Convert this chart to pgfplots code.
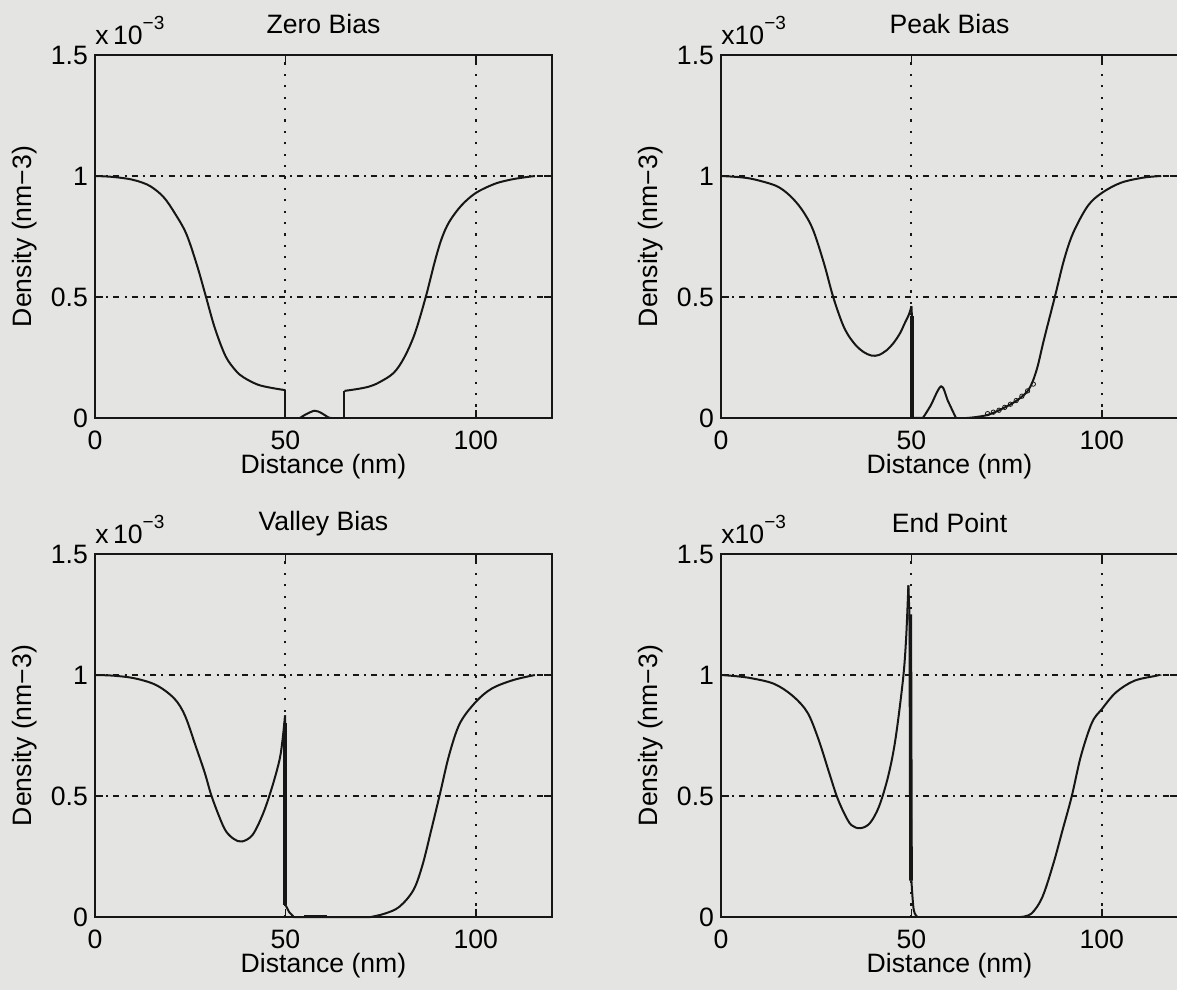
\documentclass[border=0pt]{standalone}
\usepackage{fontspec}
\setmainfont{Liberation Sans}
\usepackage{pgfplots}
\pgfplotsset{compat=1.18}
\definecolor{bg}{RGB}{228,229,226}
\definecolor{ink}{RGB}{22,22,22}
\pgfplotsset{
 mystyle/.style={
  scale only axis, width=228.5pt, height=181.5pt,
  xmin=0,xmax=120,ymin=0,ymax=1.5,
  xtick={0,50,100}, ytick={0,0.5,1,1.5},
  xticklabels={0,50,100}, yticklabels={0,0.5,1,1.5},
  tick align=inside, major tick length=4pt,
  grid=major,
  x grid style={ink, line width=1pt, dash pattern=on 1.1pt off 4.6pt},
  y grid style={ink, line width=1pt, dash pattern=on 3pt off 2.6pt on 1pt off 2.6pt},
  axis line style={ink, line width=1.1pt},
  tick style={ink, line width=0.8pt},
  font=\fontsize{13.3}{15}\selectfont,
  /pgf/number format/assume math mode=true,
  xticklabel style={yshift=-3pt},
  xlabel={Distance (nm)},
  ylabel={Density (nm−3)},
  xlabel style={at={(axis description cs:0.5,-0.135)},anchor=center},
  ylabel style={at={(axis description cs:-0.155,0.5)},anchor=center},
  title style={at={(axis description cs:0.5,1.085)},anchor=center,yshift=-6pt},
  cycle list={{ink, line width=1pt}},
  clip=false,
 },
 sm/.style={ink, line width=1pt, smooth, tension=0.55},
 st/.style={ink, line width=1pt, sharp plot},
}
\newcommand{\expo}[1]{\node[anchor=base west, inner sep=0pt, font=\fontsize{13.3}{15}\selectfont] at (rel axis cs:0,1) [yshift=5pt] {#1};}
\begin{document}
\begin{tikzpicture}
\fill[bg] (0,0) rectangle (588.5pt,495pt);
% Zero Bias
\begin{axis}[mystyle, at={(47.5pt,286pt)}, anchor=south west, title={Zero Bias}]
\addplot[sm] coordinates {(0,1.0)(4,0.997)(8,0.99)(11,0.98)(14.5,0.958)(18,0.913)(21,0.845)(24,0.76)(26.8,0.63)(29.1,0.503)(31.5,0.37)(34.3,0.255)(37,0.195)(39,0.168)(42.7,0.138)(46.5,0.124)(50,0.115)};
\addplot[st] coordinates {(50,0.115)(50,0)(53.8,0)};
\addplot[sm] coordinates {(53.8,0)(55.5,0.016)(57.7,0.03)(59.5,0.02)(61.2,0.003)(62,0)};
\addplot[st] coordinates {(62,0)(65.5,0)(65.5,0.112)};
\addplot[sm] coordinates {(65.5,0.112)(69,0.12)(72,0.13)(74.6,0.147)(78.4,0.186)(81.2,0.25)(84,0.35)(86.9,0.503)(89.2,0.645)(91,0.74)(93,0.81)(96.2,0.878)(100,0.93)(104.7,0.966)(108,0.981)(111.3,0.991)(115.5,1.0)};
\expo{x\,10\raisebox{7.5pt}{\fontsize{9.5}{9.5}\selectfont −3}}
\end{axis}
% Peak Bias
\begin{axis}[mystyle, at={(360.5pt,286pt)}, anchor=south west, title={Peak Bias}]
\addplot[sm] coordinates {(0,1.0)(5,0.995)(8.7,0.986)(14.5,0.959)(18,0.92)(21.2,0.862)(24.1,0.78)(27,0.641)(29.4,0.503)(31.8,0.393)(33.5,0.34)(35.6,0.297)(37.5,0.272)(39.5,0.258)(41.4,0.26)(43.5,0.28)(45.3,0.31)(47,0.35)(48.2,0.39)(49.4,0.43)(50,0.462)};
\addplot[st] coordinates {(50,0.462)(50.2,0.4)(50.3,0)(53,0)};
\addplot[sm] coordinates {(53,0)(55,0.05)(57.8,0.131)(59.6,0.07)(61.7,0)};
\addplot[st] coordinates {(61.7,0)(64.5,0)};
\addplot[sm] coordinates {(64.5,0)(67,0.004)(70.3,0.014)(74.2,0.041)(78,0.076)(80.9,0.12)(82.9,0.2)(84.8,0.324)(87.7,0.503)(90.1,0.655)(92.5,0.766)(96.3,0.876)(100,0.93)(105,0.972)(110.8,0.993)(115.6,1.0)};
\addplot[ink, line width=1.8pt] coordinates {(50.1,0.42)(50.1,0)};
\addplot[ink, only marks, mark=o, mark size=1.1pt, mark options={line width=0.4pt}] coordinates {(70,0.018)(71.5,0.024)(73,0.032)(74.5,0.044)(76,0.057)(77.5,0.072)(79,0.09)(80.5,0.112)(82,0.14)};
\expo{x10\raisebox{7.5pt}{\fontsize{9.5}{9.5}\selectfont −3}}
\end{axis}
% Valley Bias
\begin{axis}[mystyle, at={(47.5pt,36.5pt)}, anchor=south west, title={Valley Bias}]
\addplot[sm] coordinates {(0,1.0)(5,0.997)(10.5,0.986)(16.1,0.958)(20.8,0.903)(23.6,0.833)(26.4,0.708)(28.8,0.597)(30.6,0.5)(33,0.40)(34.5,0.352)(36.5,0.322)(38.6,0.312)(41.4,0.34)(44.2,0.43)(46.6,0.542)(48.5,0.653)(49.3,0.74)(49.9,0.833)};
\addplot[st] coordinates {(49.9,0.833)(50,0.05)(51,0.02)(52.2,0)(72.4,0)};
\addplot[sm] coordinates {(72.4,0)(76.1,0.014)(79.9,0.042)(83.6,0.111)(86,0.215)(88.3,0.36)(90.6,0.51)(93,0.67)(95.8,0.8)(100,0.889)(104.2,0.944)(109.8,0.979)(115.5,1.0)};
\addplot[ink, line width=1.8pt] coordinates {(49.9,0.8)(49.9,0.05)};
\addplot[ink, line width=1.4pt] coordinates {(55,0.004)(61,0.004)};
\expo{x\,10\raisebox{7.5pt}{\fontsize{9.5}{9.5}\selectfont −3}}
\end{axis}
% End Point
\begin{axis}[mystyle, at={(360.5pt,36.5pt)}, anchor=south west, title={End Point}]
\addplot[sm] coordinates {(0,1.0)(4,0.995)(8.2,0.986)(14,0.963)(18.8,0.914)(22.7,0.845)(25.6,0.734)(28.4,0.596)(30.4,0.499)(32.3,0.43)(34.2,0.38)(36.6,0.367)(39.1,0.388)(41.5,0.457)(43.9,0.582)(45.8,0.734)(47.8,0.983)(48.6,1.15)(49.2,1.37)};
\addplot[st] coordinates {(49.2,1.37)(49.6,1.2)(49.8,0.6)(50,0.15)};
\addplot[sm] coordinates {(50,0.15)(50.6,0.03)(51.6,0)};
\addplot[st] coordinates {(51.6,0)(78.6,0)};
\addplot[sm] coordinates {(78.6,0)(81.5,0.014)(84.4,0.083)(87.3,0.222)(89.7,0.36)(92.1,0.499)(94.5,0.665)(97.4,0.803)(100,0.859)(103.7,0.928)(108.5,0.976)(114.3,0.997)(115,1.0)};
\addplot[ink, line width=1.8pt] coordinates {(49.7,1.25)(49.9,0.15)};
\expo{x10\raisebox{7.5pt}{\fontsize{9.5}{9.5}\selectfont −3}}
\end{axis}
\pgfresetboundingbox
\useasboundingbox (0,0) rectangle (588.5pt,495pt);
\end{tikzpicture}
\end{document}
